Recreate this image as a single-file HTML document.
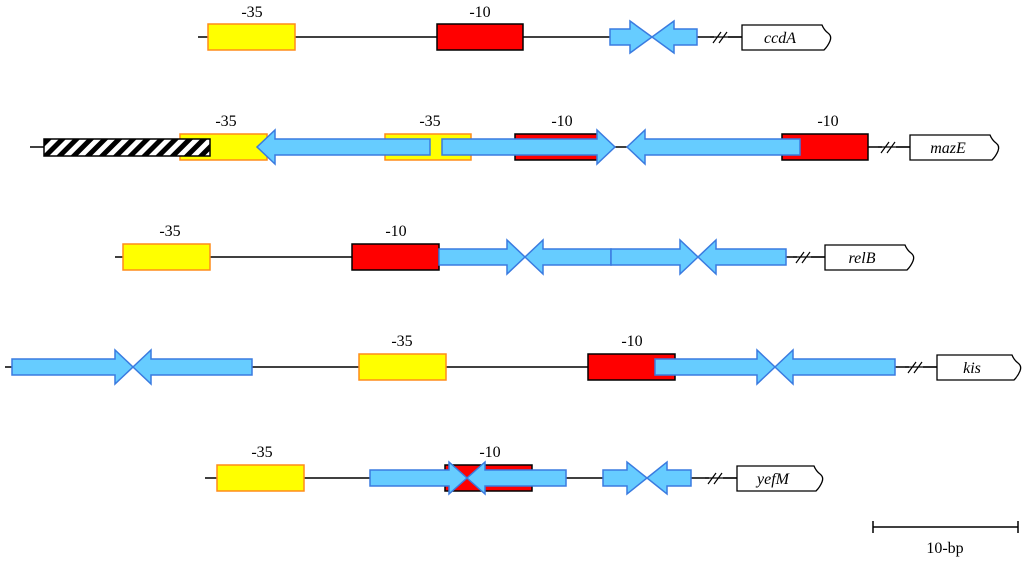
<!DOCTYPE html><html><head><style>body{margin:0;background:#fff}svg{display:block}text{font-family:"Liberation Serif",serif;font-size:16px}</style></head><body>
<svg width="1024" height="563" xmlns="http://www.w3.org/2000/svg">
<defs><pattern id="h" width="10" height="10" patternUnits="userSpaceOnUse" patternTransform="rotate(45)"><rect width="10" height="10" fill="#fff"/><rect width="5" height="10" fill="#000"/></pattern></defs>
<g stroke="#000" stroke-width="1.5">
<line x1="198" y1="37" x2="742" y2="37"/><line x1="30" y1="147" x2="910" y2="147"/><line x1="115" y1="257" x2="825" y2="257"/><line x1="5" y1="367" x2="937" y2="367"/><line x1="205" y1="478" x2="737" y2="478"/>
<line x1="873" y1="527" x2="1018" y2="527"/><line x1="873" y1="521" x2="873" y2="533"/><line x1="1018" y1="521" x2="1018" y2="533"/>
</g>
<g fill="#fff" stroke="#000" stroke-width="1.5">
<rect x="714" y="31" width="14" height="12" stroke="none"/><rect x="882" y="141" width="14" height="12" stroke="none"/><rect x="797" y="251" width="14" height="12" stroke="none"/><rect x="909" y="361" width="14" height="12" stroke="none"/><rect x="709" y="472" width="14" height="12" stroke="none"/>
</g>
<g stroke="#000" stroke-width="1.2">
<path d="M713 43l8-11M719 43l8-11M881 153l8-11M887 153l8-11M796 263l8-11M802 263l8-11M908 373l8-11M914 373l8-11M708 484l8-11M714 484l8-11"/>
<line x1="710" y1="37" x2="742" y2="37"/><line x1="878" y1="147" x2="910" y2="147"/><line x1="793" y1="257" x2="825" y2="257"/><line x1="905" y1="367" x2="937" y2="367"/><line x1="705" y1="478" x2="737" y2="478"/>
</g>
<g fill="#ffff00" stroke="#ff8c1a" stroke-width="1.5">
<rect x="208" y="24" width="87" height="26"/><rect x="180" y="134" width="87" height="26"/><rect x="385" y="134" width="86" height="26"/><rect x="123" y="244" width="87" height="26"/><rect x="359" y="354" width="87" height="26"/><rect x="217" y="465" width="87" height="26"/>
</g>
<g fill="#ff0000" stroke="#000" stroke-width="1.5">
<rect x="437" y="24" width="86" height="26"/><rect x="515" y="134" width="85" height="26"/><rect x="782" y="134" width="86" height="26"/><rect x="352" y="244" width="87" height="26"/><rect x="588" y="354" width="87" height="26"/><rect x="445" y="465" width="87" height="26"/>
</g>
<rect x="44" y="139" width="166" height="17" fill="url(#h)" stroke="#000" stroke-width="1.5"/>
<g fill="#66ccff" stroke="#3a7be0" stroke-width="1.5">
<polygon points="610,29 630,29 630,21 652,37 630,53 630,45 610,45"/>
<polygon points="697,29 674,29 674,21 652,37 674,53 674,45 697,45"/>
<polygon points="430,139 275,139 275,130 257,147 275,164 275,155 430,155"/>
<polygon points="442,139 597,139 597,130 615,147 597,164 597,155 442,155"/>
<polygon points="800,139 645,139 645,130 627,147 645,164 645,155 800,155"/>
<polygon points="439,249 507,249 507,240 525,257 507,274 507,265 439,265"/>
<polygon points="611,249 543,249 543,240 525,257 543,274 543,265 611,265"/>
<polygon points="611,249 680,249 680,240 698,257 680,274 680,265 611,265"/>
<polygon points="786,249 716,249 716,240 698,257 716,274 716,265 786,265"/>
<polygon points="12,359 115,359 115,350 133,367 115,384 115,375 12,375"/>
<polygon points="252,359 151,359 151,350 133,367 151,384 151,375 252,375"/>
<polygon points="655,359 757,359 757,350 775,367 757,384 757,375 655,375"/>
<polygon points="895,359 793,359 793,350 775,367 793,384 793,375 895,375"/>
<polygon points="370,470 449,470 449,462 467,478 449,494 449,486 370,486"/>
<polygon points="566,470 485,470 485,462 467,478 485,494 485,486 566,486"/>
<polygon points="603,470 627,470 627,462 647,478 627,494 627,486 603,486"/>
<polygon points="691,470 667,470 667,462 647,478 667,494 667,486 691,486"/>
</g>
<g fill="#fff" stroke="#000" stroke-width="1.3">
<path d="M742 25h80q2 5 6 8t2 8q-2 5 -6 9h-82z"/>
<path d="M910 135h80q2 5 6 8t2 8q-2 5 -6 9h-82z"/>
<path d="M825 245h80q2 5 6 8t2 8q-2 5 -6 9h-82z"/>
<path d="M937 355h75q2 5 6 8t2 8q-2 5 -6 9h-77z"/>
<path d="M737 466h77q2 5 6 8t2 8q-2 5 -6 9h-79z"/>
</g>
<g font-style="italic" text-anchor="middle">
<text x="780" y="43" style="font-style:italic">ccdA</text><text x="948" y="153" style="font-style:italic">mazE</text><text x="862" y="263" style="font-style:italic">relB</text><text x="972" y="373" style="font-style:italic">kis</text><text x="773" y="484" style="font-style:italic">yefM</text>
</g>
<g text-anchor="middle">
<text x="252" y="17">-35</text><text x="480" y="17">-10</text>
<text x="226" y="126">-35</text><text x="430" y="126">-35</text><text x="562" y="126">-10</text><text x="828" y="126">-10</text>
<text x="170" y="236">-35</text><text x="396" y="236">-10</text>
<text x="402" y="346">-35</text><text x="632" y="346">-10</text>
<text x="262" y="457">-35</text><text x="490" y="457">-10</text>
<text x="945" y="553">10-bp</text>
</g>
</svg></body></html>
